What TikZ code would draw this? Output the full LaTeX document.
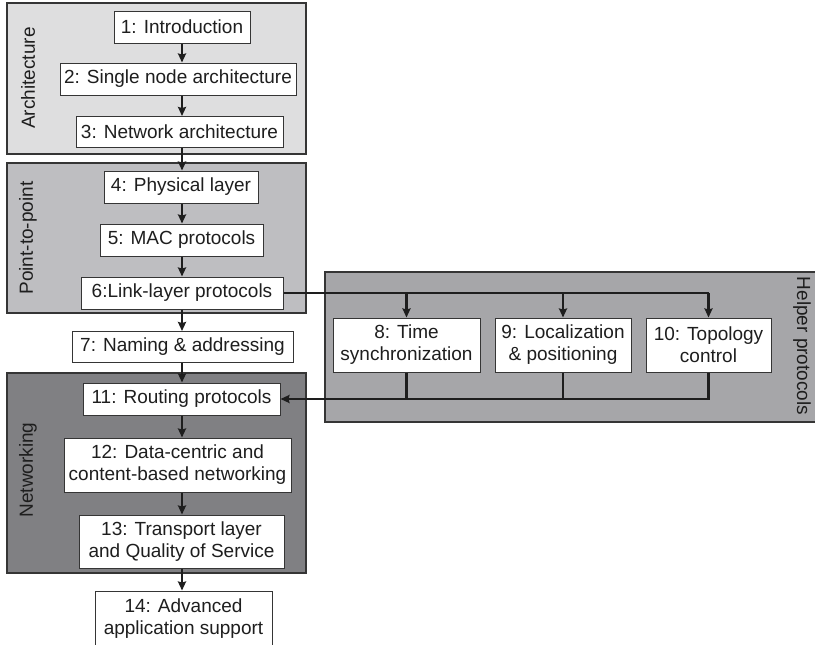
\documentclass[tikz,border=0pt]{standalone}
\usepackage{fontspec}
\setmainfont{Liberation Sans}
\usetikzlibrary{arrows.meta}
\definecolor{archfill}{HTML}{DEDEDF}
\definecolor{ptpfill}{HTML}{BEBEC1}
\definecolor{helpfill}{HTML}{A6A6A9}
\definecolor{netfill}{HTML}{808083}
\definecolor{ink}{HTML}{1E1E1E}
\begin{document}
\begin{tikzpicture}[x=1pt,y=-1pt,
  group/.style={draw=ink!90, line width=1.3pt},
  box/.style={draw=ink!90, fill=white, line width=1pt, inner sep=0pt, align=center,
    font=\fontsize{19}{22}\selectfont, text=ink},
  glabel/.style={font=\fontsize{19}{22}\selectfont, text=ink, inner sep=0pt},
  conn/.style={draw=ink, line width=2.2pt},
  arr/.style={conn, -{Stealth[length=9pt,width=8pt,inset=1pt]}}]
\useasboundingbox (0,0) rectangle (815,645);
% groups
\path[group, fill=archfill] (7,3) rectangle (306,154);
\path[group, fill=ptpfill] (7,163) rectangle (306,313);
\path[group, fill=netfill] (7,373) rectangle (306,573);
\path[group, fill=helpfill] (325,272) rectangle (830,422);
\node[glabel, rotate=90] (gArch) at (28,78) {Architecture};
\node[glabel, rotate=90] (gPtp) at (28,238) {Point-to-point};
\node[glabel, rotate=90] (gNet) at (28,470) {Networking};
\node[glabel, rotate=-90] (gHelp) at (802,346) {Helper protocols};
% main column
\coordinate (spine) at (182,0);
\node[box, minimum width=136, minimum height=32] (n1) at (182,27) {1: Introduction};
\node[box, minimum width=236, minimum height=32] (n2) at (178,79) {2: Single node architecture};
\node[box, minimum width=207, minimum height=31] (n3) at (179.5,132) {3: Network architecture};
\node[box, minimum width=154, minimum height=32] (n4) at (181,187) {4: Physical layer};
\node[box, minimum width=163, minimum height=32] (n5) at (181.5,240) {5: MAC protocols};
\node[box, minimum width=202, minimum height=32] (n6) at (182,293) {6:Link-layer protocols};
\node[box, minimum width=221, minimum height=31] (n7) at (182.5,347) {7: Naming \& addressing};
\node[box, minimum width=197, minimum height=32] (n11) at (181.5,399) {11: Routing protocols};
\node[box, minimum width=227, minimum height=54] (n12) at (177.5,465) {12: Data-centric and\\content-based networking};
\node[box, minimum width=205, minimum height=53] (n13) at (181.5,541.5) {13: Transport layer\\and Quality of Service};
\node[box, minimum width=177, minimum height=56] (n14) at (183.5,619) {14: Advanced\\application support};
% helpers
\node[box, minimum width=147, minimum height=54] (n8) at (406.5,345) {8: Time\\synchronization};
\node[box, minimum width=136, minimum height=54] (n9) at (563,345) {9: Localization\\\& positioning};
\node[box, minimum width=125, minimum height=54] (n10) at (708.5,345) {10: Topology\\control};
% main arrows
\foreach \a/\b in {n1/n2,n2/n3,n3/n4,n4/n5,n5/n6,n6/n7,n7/n11,n11/n12,n12/n13,n13/n14}
  \draw[arr] (\a.south -| spine) -- (\b.north -| spine);
% link layer to helpers
\draw[conn] (n6.east) -- (n6.east -| n10.north);
\foreach \h in {n8,n9,n10}
  \draw[arr] (n6.east -| \h.north) -- (\h.north);
% helpers to routing
\draw[conn] (n8.south) -- (n8.south |- n11.east);
\draw[conn] (n9.south) -- (n9.south |- n11.east);
\draw[arr] (n10.south) |- (n11.east);
\end{tikzpicture}
\end{document}
